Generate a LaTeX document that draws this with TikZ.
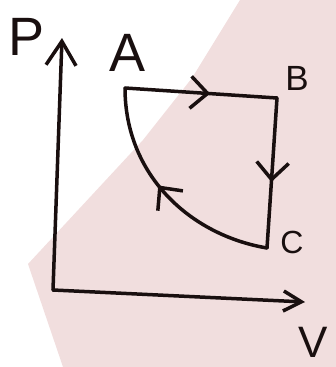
\documentclass[tikz,border=0pt]{standalone}
\usepackage{fontspec}
\setmainfont{Liberation Sans}
\usetikzlibrary{arrows.meta,decorations.markings}
\definecolor{bgpink}{RGB}{241,222,222}
\definecolor{ink}{RGB}{25,15,15}
\begin{document}
\begin{tikzpicture}[x=1pt,y=-1pt,
  line width=3.5pt, line cap=round, line join=round,
  stroke/.style={draw=ink},
  lbl/.style={inner sep=0pt, text=ink, font=\fontsize{#1}{#1}\selectfont},
  midarrow/.style={postaction={decorate},
    decoration={markings, mark=at position #1 with {\arrow[ink]{Straight Barb[length=17pt,width=32pt]}}}}
]
\useasboundingbox (0,0) rectangle (336,367);
% pink background
\fill[bgpink] (240,0) -- (192,78) -- (143,140) -- (28,264)
  -- (63,367) -- (336,367) -- (336,0) -- cycle;
% points
\coordinate (O) at (53,290);
\coordinate (Ptip) at (62,38);
\coordinate (Vtip) at (305,302);
\coordinate (A) at (125,88);
\coordinate (B) at (277,98);
\coordinate (C) at (267,248);
% axes
\draw[stroke, -{Straight Barb[length=24pt,width=30pt]}] (O) -- (Ptip);
\draw[stroke, -{Straight Barb[length=18pt,width=20pt]}] (O) -- (Vtip);
% cycle
\draw[stroke, midarrow=0.56] (A) -- (B);
\draw[stroke, midarrow=0.56] (B) -- (C);
\draw[stroke, midarrow=0.55] (C) .. controls (190,235) and (125,175) .. (A);
% labels
\node[lbl=54] (lP) at (27,37) {P};
\node[lbl=54] (lA) at (128,53) {A};
\node[lbl=35] (lB) at (297,78) {B};
\node[lbl=32] (lC) at (292,242) {C};
\node[lbl=44] (lV) at (313,342) {V};
\end{tikzpicture}
\end{document}
